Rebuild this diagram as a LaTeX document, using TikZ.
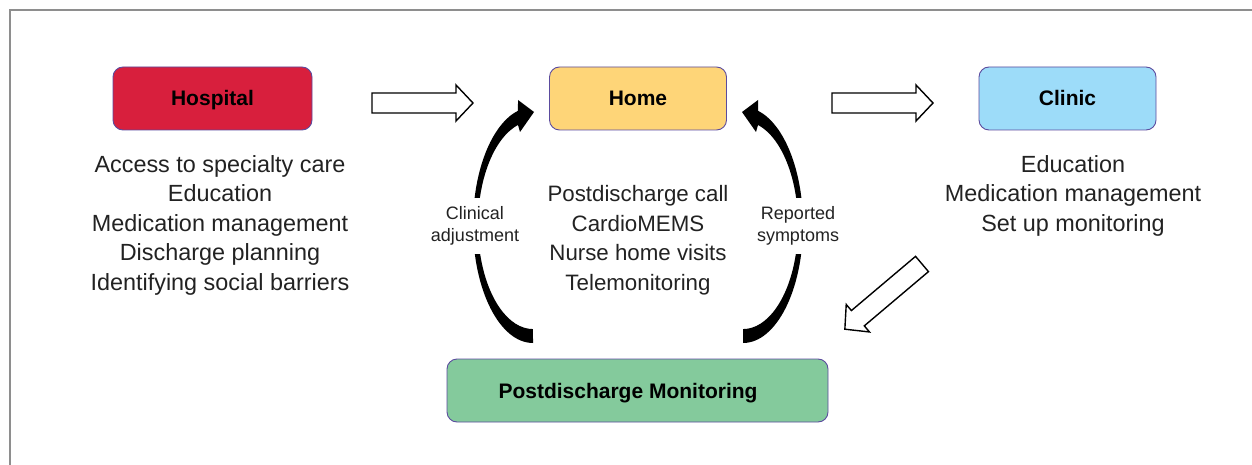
\documentclass[tikz,border=0pt]{standalone}
\usepackage{fontspec}
\setmainfont{Liberation Sans}
\definecolor{framegray}{HTML}{8E8E8E}
\definecolor{boxline}{HTML}{5B4B9E}
\definecolor{hospred}{HTML}{D81F3D}
\definecolor{homeyellow}{HTML}{FED578}
\definecolor{clinicblue}{HTML}{9DDCF9}
\definecolor{monitorgreen}{HTML}{84CA9C}
\definecolor{listtext}{HTML}{222222}
\begin{document}
\begin{tikzpicture}[x=1pt,y=-1pt,
  boxfont/.style={font=\fontsize{21}{25}\selectfont\bfseries,
    text height=15pt, text depth=0pt},
  box/.style={draw=boxline, line width=0.9pt, rounded corners=10pt,
    minimum height=63pt, inner sep=0pt, boxfont},
  listnode/.style={align=center, text=listtext, inner sep=0pt,
    font=\fontsize{22.3}{29.5}\selectfont},
  widelist/.style={listnode, font=\fontsize{23.4}{29.5}\selectfont},
  sidelabel/.style={align=center, text=listtext, fill=white,
    inner xsep=2pt, inner ysep=8pt,
    font=\fontsize{18}{22.5}\selectfont},
  hollowarrow/.pic={
    \draw[line width=1.4pt, fill=white, line join=miter]
      (0,-10) -- (84,-10) -- (84,-18) -- (101,0) -- (84,18) -- (84,10)
      -- (0,10) -- cycle;},
  bendarrow/.pic={
    \fill[black] (0,118)
      arc[start angle=90, end angle=255.5, x radius=60, y radius=118]
      -- (-15,-125) -- (1,-113) -- (-13,-93) -- (-15,-100)
      arc[start angle=254.2, end angle=90, x radius=55, y radius=104]
      -- cycle;}
]
\useasboundingbox (0,0) rectangle (1252,465);

% frame along the top and left edges
\draw[framegray, line width=1.5pt] (10,465) -- (10,10) -- (1252,10);

% stages of care
\node[box, fill=hospred, minimum width=199pt] (hospital) at (212.5,98.5) {Hospital};
\node[box, fill=homeyellow, minimum width=177pt] (home) at (638,98.5) {Home};
\node[box, fill=clinicblue, minimum width=177pt] (clinic) at (1067.5,98.5) {Clinic};
\node[box, fill=monitorgreen, minimum width=381pt] (monitor) at (637.5,390.5) {};
\node[boxfont, inner sep=0pt] (monitortext) at (628,390.5) {Postdischarge Monitoring};

% services at each stage
\node[widelist] (hosplist) at (220,225) {Access to specialty care\\Education\\Medication management\\Discharge planning\\Identifying social barriers};
\node[listnode] (homelist) at (638,240) {Postdischarge call\\CardioMEMS\\Nurse home visits\\Telemonitoring};
\node[widelist] (cliniclist) at (1073,195.5) {Education\\Medication management\\Set up monitoring};

% transitions between stages
\pic at (372,103) {hollowarrow};
\pic at (832,103) {hollowarrow};
\pic[rotate=220.2] at (922,264) {hollowarrow};

% feedback loop between monitoring and home
\pic at (533,225) {bendarrow};
\pic[xscale=-1] at (743,225) {bendarrow};
\node[sidelabel] (adjust) at (475,226) {Clinical\\adjustment};
\node[sidelabel] (symptoms) at (798,226) {Reported\\symptoms};
\end{tikzpicture}
\end{document}
